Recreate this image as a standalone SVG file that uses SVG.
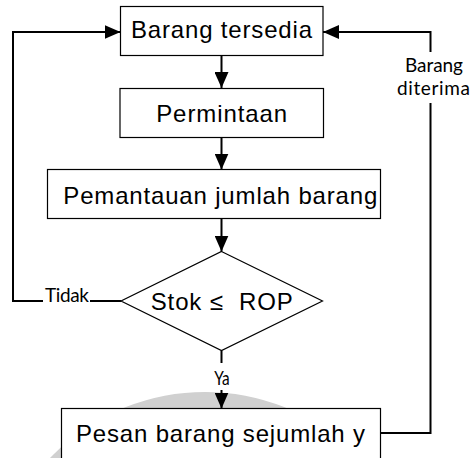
<svg xmlns="http://www.w3.org/2000/svg" width="470" height="458" viewBox="0 0 470 458">
  <style>
    .box { fill: #ffffff; stroke: #000000; stroke-width: 1.2; }
    .main { font-family: "Liberation Sans", Arial, sans-serif; font-size: 24px; fill: #000000; text-anchor: middle; }
    .lbl { font-family: Lato, "Open Sans", sans-serif; font-size: 19px; fill: #000000; text-anchor: middle; }
    .conn { fill: none; stroke: #000000; stroke-width: 2; }
  </style>
  <defs>
    <marker id="arrow" markerUnits="userSpaceOnUse" markerWidth="16" markerHeight="14" refX="16" refY="7" orient="auto">
      <path d="M0,0 L16,7 L0,14 Z" fill="#000000"/>
    </marker>
  </defs>
  <rect width="470" height="458" fill="#ffffff"/>
  <circle id="watermark" cx="205" cy="607" r="205" fill="none" stroke="#d0d0d0" stroke-width="20"/>

  <g id="connectors">
    <path class="conn" d="M221.5,56 V88" marker-end="url(#arrow)"/>
    <path class="conn" d="M221.5,137.5 V169.5" marker-end="url(#arrow)"/>
    <path class="conn" d="M221.5,218.5 V251.5" marker-end="url(#arrow)"/>
    <path class="conn" d="M221.5,350.5 V363"/>
    <path class="conn" d="M221.5,390 V408.5" marker-end="url(#arrow)"/>
    <path class="conn" d="M121,301 H90"/>
    <path class="conn" d="M43,301 H13 V32 H120.5" marker-end="url(#arrow)"/>
    <path class="conn" d="M381,433 H430.5 V103"/>
    <path class="conn" d="M430.5,52 V32 H323" marker-end="url(#arrow)"/>
    <text class="lbl" x="67" y="302.3" textLength="44">Tidak</text>
    <text class="lbl" x="222" y="385" font-size="19" textLength="15.5" lengthAdjust="spacingAndGlyphs">Ya</text>
    <text class="lbl" x="434" y="72.3" textLength="58" font-size="20">Barang</text>
    <text class="lbl" x="433.5" y="95" textLength="73" font-size="20">diterima</text>
  </g>

  <g id="node-barang-tersedia">
    <rect class="box" x="120.5" y="6.5" width="202.5" height="49"/>
    <text class="main" x="221.5" y="38" textLength="181">Barang tersedia</text>
  </g>
  <g id="node-permintaan">
    <rect class="box" x="120" y="88.5" width="203.5" height="49"/>
    <text class="main" x="221.7" y="122" textLength="131">Permintaan</text>
  </g>
  <g id="node-pemantauan">
    <rect class="box" x="47.5" y="169.5" width="333" height="49"/>
    <text class="main" x="220.3" y="203.5" textLength="314">Pemantauan jumlah barang</text>
  </g>
  <g id="node-stok-rop">
    <polygon class="box" points="221.5,251.5 322.5,301 221.5,350.5 121,301"/>
    <text class="main" x="221.7" y="309.5" textLength="142" xml:space="preserve">Stok ≤  ROP</text>
  </g>
  <g id="node-pesan">
    <rect class="box" x="61.5" y="408.5" width="319" height="60"/>
    <text class="main" x="220.5" y="442" textLength="289">Pesan barang sejumlah y</text>
  </g>
</svg>
